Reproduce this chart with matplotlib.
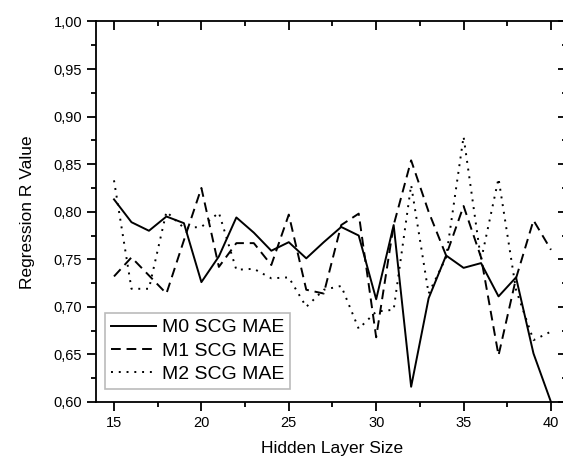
import matplotlib.pyplot as plt
from matplotlib.ticker import MultipleLocator, FuncFormatter

plt.rcParams['font.family'] = ['Liberation Sans', 'DejaVu Sans']

hidden_size = list(range(15, 41))

m0_scg_mae = [0.813, 0.789, 0.780, 0.795, 0.788, 0.726, 0.753, 0.794, 0.778, 0.759,
              0.768, 0.751, 0.768, 0.784, 0.775, 0.708, 0.786, 0.616, 0.709, 0.754,
              0.741, 0.746, 0.711, 0.731, 0.651, 0.600]
m1_scg_mae = [0.732, 0.752, 0.733, 0.714, 0.770, 0.825, 0.742, 0.767, 0.767, 0.744,
              0.797, 0.718, 0.714, 0.786, 0.798, 0.668, 0.786, 0.854, 0.800, 0.754,
              0.806, 0.752, 0.649, 0.730, 0.791, 0.760]
m2_scg_mae = [0.833, 0.719, 0.719, 0.800, 0.783, 0.784, 0.799, 0.739, 0.740, 0.730,
              0.731, 0.700, 0.718, 0.722, 0.677, 0.695, 0.697, 0.828, 0.714, 0.752,
              0.879, 0.749, 0.835, 0.718, 0.665, 0.674]

xlim = (13.97, 40.93)
ylim = (0.60, 1.00)

fig = plt.figure(figsize=(5.63, 4.59), dpi=100)
# right spine sits just past the image edge, like the reference
rect = [0.1705, 0.1242, 0.837, 0.829]
ax = fig.add_axes(rect)

ax.plot(hidden_size, m0_scg_mae, color='black', lw=1.4, ls='-', label='M0 SCG MAE')
ax.plot(hidden_size, m1_scg_mae, color='black', lw=1.4, ls=(0, (5, 3)), label='M1 SCG MAE')
ax.plot(hidden_size, m2_scg_mae, color='black', lw=1.4, ls=(0, (1, 3)), label='M2 SCG MAE')

ax.set_xlim(xlim)
ax.set_ylim(ylim)
ax.yaxis.set_major_formatter(FuncFormatter(lambda v, p: f"{v:.2f}".replace('.', ',')))

# second, transparent axes only for the inward ticks on top and right
ax_in = fig.add_axes(rect, frameon=False)
ax_in.set_xlim(xlim)
ax_in.set_ylim(ylim)
ax_in.tick_params(which='both', direction='in', bottom=False, left=False, top=True, right=True,
                  labelbottom=False, labelleft=False, width=1.3)

for a in (ax, ax_in):
    a.xaxis.set_major_locator(MultipleLocator(5))
    a.xaxis.set_minor_locator(MultipleLocator(2.5))
    a.yaxis.set_major_locator(MultipleLocator(0.05))
    a.yaxis.set_minor_locator(MultipleLocator(0.025))
    a.tick_params(which='major', length=6.5)
    a.tick_params(which='minor', length=3.5)

ax.tick_params(which='both', direction='out', labelsize=10.5, width=1.3)
for s in ax.spines.values():
    s.set_linewidth(1.3)

ax.set_xlabel('Hidden Layer Size', fontsize=12.5, labelpad=8)
ax.set_ylabel('Regression R Value', fontsize=12.5, labelpad=13)

leg = ax.legend(loc='lower left', bbox_to_anchor=(0.02, 0.034), fontsize=14,
                frameon=True, fancybox=False, handlelength=2.3, handletextpad=0.3,
                borderpad=0.3, labelspacing=0.3, borderaxespad=0)
leg.get_frame().set_edgecolor('#aaaaaa')
leg.get_frame().set_linewidth(1.2)

plt.savefig('out.png')
